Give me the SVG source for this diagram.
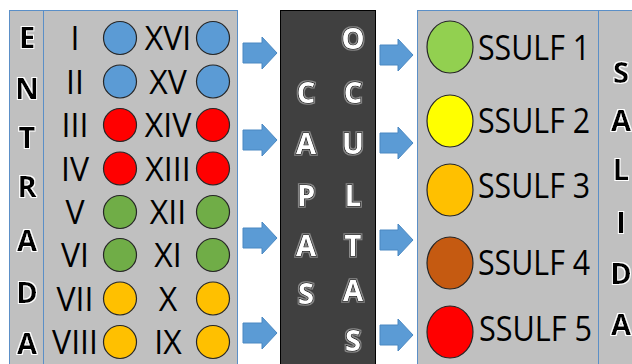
<svg xmlns="http://www.w3.org/2000/svg" width="632" height="364" viewBox="0 0 632 364">
<defs>
<filter id="wglow" x="-30%" y="-30%" width="160%" height="160%">
<feMorphology in="SourceAlpha" operator="dilate" radius="1.1" result="d"/>
<feGaussianBlur in="d" stdDeviation="0.5" result="b"/>
<feFlood flood-color="#ffffff"/>
<feComposite in2="b" operator="in" result="g"/>
<feOffset in="SourceAlpha" dx="1" dy="1.2" result="s"/>
<feGaussianBlur in="s" stdDeviation="0.5" result="sb"/>
<feFlood flood-color="#666666"/>
<feComposite in2="sb" operator="in" result="sh"/>
<feMerge><feMergeNode in="sh"/><feMergeNode in="g"/><feMergeNode in="SourceGraphic"/></feMerge>
</filter>
<filter id="dglow" x="-30%" y="-30%" width="160%" height="160%">
<feMorphology in="SourceAlpha" operator="dilate" radius="1.2" result="d"/>
<feGaussianBlur in="d" stdDeviation="0.6" result="b"/>
<feFlood flood-color="#8a8a8a"/>
<feComposite in2="b" operator="in" result="g"/>
<feMerge><feMergeNode in="g"/><feMergeNode in="SourceGraphic"/></feMerge>
</filter>
</defs>
<style>
.panel{fill:#c0c0c0;stroke:#5b8fc7;stroke-width:1}
.div{stroke:#5b8fc7;stroke-width:1}
.num{font-family:"Open Sans","Liberation Sans",sans-serif;font-size:32px;fill:#000;text-anchor:middle}
.lbl{font-family:"Open Sans","Liberation Sans",sans-serif;font-size:35px;fill:#000}
.big{font-family:"Open Sans","Liberation Sans",sans-serif;font-size:29px;font-weight:bold;fill:#000;text-anchor:middle;filter:url(#wglow)}
.wl{font-family:"Open Sans","Liberation Sans",sans-serif;font-size:29px;font-weight:bold;fill:#fff;stroke:#000;stroke-width:1.4;paint-order:stroke;text-anchor:middle;filter:url(#dglow)}
.c{stroke:#262626;stroke-width:1.2}
.arr{fill:#5b9bd5;stroke:#4a88c2;stroke-width:1}
.blue{fill:#5b9bd5}.red{fill:#ff0000}.green{fill:#70ad47}.gold{fill:#ffc000}
.lgreen{fill:#92d050}.yellow{fill:#ffff00}.brown{fill:#c55a11}
</style>
<rect x="0" y="0" width="632" height="364" fill="#ffffff"/>

<g id="entrada">
<rect class="panel" x="9.5" y="10.5" width="228" height="360"/>
<line class="div" x1="43.5" y1="10.5" x2="43.5" y2="364"/>
<text class="big" x="27" y="48">E</text>
<text class="big" x="27" y="99">N</text>
<text class="big" x="27" y="148">T</text>
<text class="big" x="27" y="197">R</text>
<text class="big" x="27" y="251">A</text>
<text class="big" x="27" y="303">D</text>
<text class="big" x="27" y="354">A</text>
</g>

<g id="inputs">
<text class="num" x="75" y="50">I</text>
<text class="num" x="75" y="94">II</text>
<text class="num" x="75" y="137">III</text>
<text class="num" x="75" y="181">IV</text>
<text class="num" x="75" y="224">V</text>
<text class="num" x="75" y="267">VI</text>
<text class="num" x="75" y="311">VII</text>
<text class="num" x="75" y="354">VIII</text>
<circle class="c blue" cx="120" cy="38" r="16.5"/>
<circle class="c blue" cx="120" cy="81.5" r="16.5"/>
<circle class="c red" cx="120" cy="125" r="16.5"/>
<circle class="c red" cx="120" cy="168.5" r="16.5"/>
<circle class="c green" cx="120" cy="212" r="16.5"/>
<circle class="c green" cx="120" cy="255" r="16.5"/>
<circle class="c gold" cx="120" cy="298.5" r="16.5"/>
<circle class="c gold" cx="120" cy="342" r="16.5"/>
<text class="num" x="168" y="50">XVI</text>
<text class="num" x="168" y="94">XV</text>
<text class="num" x="168" y="137">XIV</text>
<text class="num" x="168" y="181">XIII</text>
<text class="num" x="168" y="224">XII</text>
<text class="num" x="168" y="267">XI</text>
<text class="num" x="168" y="311">X</text>
<text class="num" x="168" y="354">IX</text>
<circle class="c blue" cx="213" cy="38" r="16.5"/>
<circle class="c blue" cx="213" cy="81.5" r="16.5"/>
<circle class="c red" cx="213" cy="125" r="16.5"/>
<circle class="c red" cx="213" cy="168.5" r="16.5"/>
<circle class="c green" cx="213" cy="212" r="16.5"/>
<circle class="c green" cx="213" cy="255" r="16.5"/>
<circle class="c gold" cx="213" cy="298.5" r="16.5"/>
<circle class="c gold" cx="213" cy="342" r="16.5"/>
</g>

<g id="capas-ocultas">
<rect x="280.5" y="10.5" width="95" height="360" fill="#404040" stroke="#000" stroke-width="1"/>
<text class="wl" x="306" y="103">C</text>
<text class="wl" x="306" y="154">A</text>
<text class="wl" x="306" y="206">P</text>
<text class="wl" x="306" y="256">A</text>
<text class="wl" x="306" y="304">S</text>
<text class="wl" x="353" y="49">O</text>
<text class="wl" x="353" y="103">C</text>
<text class="wl" x="353" y="154">U</text>
<text class="wl" x="353" y="206">L</text>
<text class="wl" x="353" y="256">T</text>
<text class="wl" x="353" y="301">A</text>
<text class="wl" x="353" y="351">S</text>
</g>

<g id="salida">
<rect class="panel" x="417.5" y="10.5" width="230" height="360"/>
<line class="div" x1="598.5" y1="10.5" x2="598.5" y2="364"/>
<ellipse class="c lgreen" cx="450" cy="47" rx="23" ry="26"/>
<ellipse class="c yellow" cx="450" cy="121" rx="23" ry="26"/>
<ellipse class="c gold" cx="450" cy="190" rx="23" ry="26"/>
<ellipse class="c brown" cx="450" cy="263" rx="23" ry="26"/>
<ellipse class="c red" cx="450" cy="332" rx="23" ry="26"/>
<text class="lbl" x="478" y="60" textLength="112" lengthAdjust="spacingAndGlyphs">SSULF 1</text>
<text class="lbl" x="478" y="133" textLength="112" lengthAdjust="spacingAndGlyphs">SSULF 2</text>
<text class="lbl" x="478" y="198" textLength="112" lengthAdjust="spacingAndGlyphs">SSULF 3</text>
<text class="lbl" x="478" y="275" textLength="112" lengthAdjust="spacingAndGlyphs">SSULF 4</text>
<text class="lbl" x="479" y="341" textLength="113" lengthAdjust="spacingAndGlyphs">SSULF 5</text>
<text class="big" x="621" y="83">S</text>
<text class="big" x="621" y="131">A</text>
<text class="big" x="621" y="180">L</text>
<text class="big" x="621" y="233">I</text>
<text class="big" x="621" y="284">D</text>
<text class="big" x="621" y="335">A</text>
</g>

<g id="connectors">
<path class="arr" d="M243,43 H262 V37 L277,53 L262,69 V63 H243 Z"/>
<path class="arr" d="M243,130 H262 V124 L277,140 L262,156 V150 H243 Z"/>
<path class="arr" d="M243,228 H262 V222 L277,238 L262,254 V248 H243 Z"/>
<path class="arr" d="M243,323 H262 V317 L277,333 L262,349 V343 H243 Z"/>
<path class="arr" d="M380,45 H398 V39 L413,55 L398,71 V65 H380 Z"/>
<path class="arr" d="M380,133 H398 V127 L413,143 L398,159 V153 H380 Z"/>
<path class="arr" d="M380,230 H398 V224 L413,240 L398,256 V250 H380 Z"/>
<path class="arr" d="M380,325 H398 V319 L413,335 L398,351 V345 H380 Z"/>
</g>
</svg>
